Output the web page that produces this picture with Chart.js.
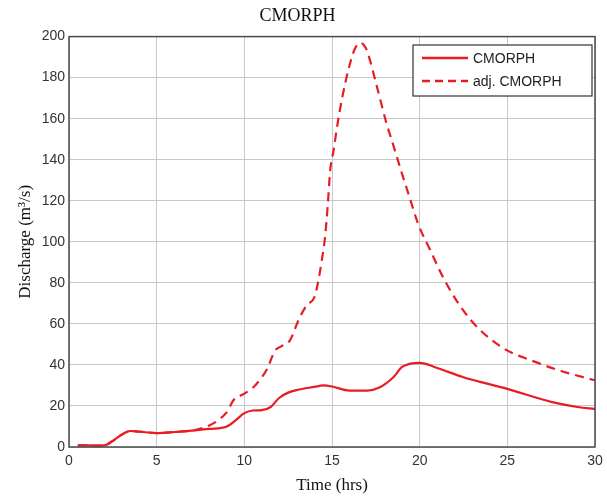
<!DOCTYPE html>
<html>
<head>
<meta charset="utf-8">
<script src="https://cdn.jsdelivr.net/npm/chart.js@4"></script>
<style>
html,body{margin:0;padding:0;background:#fff;}
#wrap{width:607px;height:498px;position:relative;}
</style>
</head>
<body>
<div id="wrap"><canvas id="c" width="607" height="498"></canvas></div>
<script>
const chartTitle = "CMORPH";
const xAxisTitle = "Time (hrs)";
const yAxisTitle = "Discharge (m³/s)";
const seriesNames = ["CMORPH", "adj. CMORPH"];
const xTicks = [0, 5, 10, 15, 20, 25, 30];
const yTicks = [0, 20, 40, 60, 80, 100, 120, 140, 160, 180, 200];

const cmorphTime = [0.5, 1.0, 1.5, 2.0, 2.5, 3.0, 3.5, 4.0, 5.0, 6.0, 7.0, 8.0, 9.0, 9.5, 10.0, 10.5, 11.0, 11.5, 12.0, 12.5, 13.0, 14.0, 14.5, 15.0, 16.0, 17.0, 17.7, 18.5, 19.0, 20.0, 21.0, 22.5, 25.0, 27.5, 29.0, 30.0];
const cmorphFlow = [0.8, 0.8, 0.7, 0.8, 3, 6, 7.8, 7.5, 6.8, 7.3, 8, 8.8, 10, 13, 16.5, 17.8, 18, 19.5, 24, 26.5, 27.8, 29.3, 30, 29.5, 27.5, 27.5, 29, 34, 39, 41, 38.5, 34, 28.3, 22, 19.5, 18.5];

const adjTime = [0.5, 1.0, 1.5, 2.0, 2.5, 3.0, 3.5, 4.0, 5.0, 6.0, 7.0, 7.5, 8.0, 8.5, 9.0, 9.4, 10.0, 10.5, 11.0, 11.3, 11.75, 12.1, 12.6, 13.1, 13.55, 14.0, 14.2, 14.4, 14.6, 14.75, 14.9, 15.1, 15.27, 15.6, 16.0, 16.3, 16.6, 16.8, 17.0, 17.55, 18.1, 18.5, 19.0, 19.45, 19.9, 20.6, 21.5, 22.9, 24.8, 26.3, 28.2, 30.0];
const adjFlow = [0.8, 0.8, 0.7, 0.8, 3, 6, 7.8, 7.5, 6.8, 7.3, 8, 9, 10.5, 13, 17, 23, 26, 29, 34, 38, 47, 49, 52, 62, 69, 73, 80, 90, 102, 117, 135, 145, 155, 171, 186, 194, 197, 196, 193, 176, 158, 147, 133, 121, 109, 96, 80, 62, 48, 42.4, 36.7, 32.5];

const RED = 'rgb(232,28,36)';

const frame = {
  id: 'frame',
  afterDatasetsDraw(chart) {
    const {ctx, chartArea: a} = chart;
    ctx.save();
    ctx.strokeStyle = '#4a4a4a';
    ctx.lineWidth = 1.5;
    ctx.strokeRect(a.left, a.top, a.right - a.left, a.bottom - a.top);
    // legend box
    const lx = 413, ly = 45, lw = 179, lh = 51;
    ctx.fillStyle = '#fff';
    ctx.fillRect(lx, ly, lw, lh);
    ctx.strokeStyle = '#333';
    ctx.lineWidth = 1.2;
    ctx.strokeRect(lx, ly, lw, lh);
    const rows = [ly + 13, ly + 36];
    chart.data.datasets.forEach((ds, i) => {
      ctx.strokeStyle = ds.borderColor;
      ctx.lineWidth = 2.5;
      ctx.setLineDash(ds.borderDash ? [8, 5] : []);
      ctx.beginPath();
      ctx.moveTo(lx + 9, rows[i]);
      ctx.lineTo(lx + 55, rows[i]);
      ctx.stroke();
      ctx.setLineDash([]);
      ctx.fillStyle = '#222';
      ctx.font = '14px "Liberation Sans", Arial, sans-serif';
      ctx.textBaseline = 'middle';
      ctx.fillText(ds.label, lx + 60, rows[i] + 1);
    });
    ctx.restore();
  }
};

new Chart(document.getElementById('c'), {
  type: 'line',
  data: {
    datasets: [
      {
        label: seriesNames[0],
        data: cmorphTime.map((t, i) => ({x: t, y: cmorphFlow[i]})),
        borderColor: RED, borderWidth: 2.2, pointRadius: 0,
        cubicInterpolationMode: 'monotone', fill: false
      },
      {
        label: seriesNames[1],
        data: adjTime.map((t, i) => ({x: t, y: adjFlow[i]})),
        borderColor: RED, borderWidth: 2.2, borderDash: [9, 6], pointRadius: 0,
        cubicInterpolationMode: 'monotone', fill: false
      }
    ]
  },
  options: {
    responsive: false,
    animation: false,
    layout: {padding: {top: 0, right: 12, bottom: 0, left: 0}},
    plugins: {
      legend: {display: false},
      tooltip: {enabled: false},
      title: {
        display: true, text: chartTitle, color: '#111',
        font: {family: '"Liberation Serif", "Times New Roman", serif', size: 18, weight: 'normal'},
        padding: {top: 5, bottom: 10}
      }
    },
    scales: {
      x: {
        type: 'linear', min: 0, max: 30,
        afterBuildTicks: s => { s.ticks = xTicks.map(v => ({value: v})); },
        afterFit: s => { s.height = 51; s.paddingRight = 0; s.paddingLeft = 0; },
        ticks: {color: '#333', font: {family: '"Liberation Sans", Arial, sans-serif', size: 14}, padding: 6, maxRotation: 0},
        grid: {color: '#c8c8c8', lineWidth: 1, drawTicks: false},
        border: {display: false},
        title: {display: true, text: xAxisTitle, color: '#111',
          font: {family: '"Liberation Serif", "Times New Roman", serif', size: 17}, padding: {top: 2, bottom: 2}}
      },
      y: {
        type: 'linear', min: 0, max: 200,
        afterBuildTicks: s => { s.ticks = yTicks.map(v => ({value: v})); },
        afterFit: s => { s.width = 69; },
        ticks: {color: '#333', font: {family: '"Liberation Sans", Arial, sans-serif', size: 14}, padding: 4},
        grid: {color: '#c8c8c8', lineWidth: 1, drawTicks: false},
        border: {display: false},
        title: {display: true, text: yAxisTitle, color: '#111',
          font: {family: '"Liberation Serif", "Times New Roman", serif', size: 17}, padding: {top: 15, bottom: 4}}
      }
    }
  },
  plugins: [frame]
});
</script>
</body>
</html>
